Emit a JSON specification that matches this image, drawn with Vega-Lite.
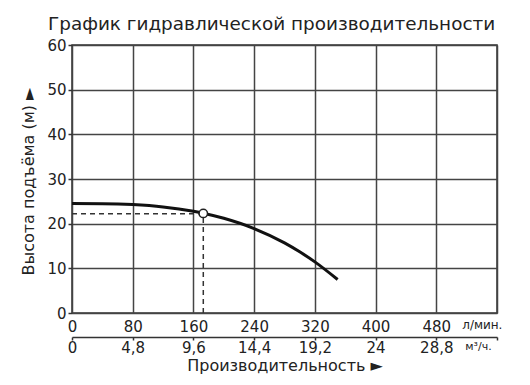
{
  "$schema": "https://vega.github.io/schema/vega-lite/v6.json",
  "width": 425,
  "height": 268,
  "autosize": {"type": "none"},
  "padding": {"left": 72, "top": 45, "right": 33, "bottom": 72},
  "background": "white",
  "title": {
    "text": "График гидравлической производительности",
    "anchor": "start",
    "frame": "group",
    "dx": -24,
    "offset": -10,
    "baseline": "alphabetic",
    "font": "DejaVu Sans",
    "fontSize": 18.4,
    "fontWeight": "normal",
    "color": "#222"
  },
  "config": {
    "font": "DejaVu Sans",
    "view": {"stroke": "#333", "strokeWidth": 1.5}
  },
  "datasets": {
    "curve": [
      {"q": 0, "h": 24.5},
      {"q": 40, "h": 24.47},
      {"q": 80, "h": 24.27},
      {"q": 120, "h": 23.75},
      {"q": 160, "h": 22.78},
      {"q": 173, "h": 22.35},
      {"q": 200, "h": 21.2},
      {"q": 240, "h": 18.9},
      {"q": 280, "h": 15.7},
      {"q": 300, "h": 13.7},
      {"q": 320, "h": 11.45},
      {"q": 350, "h": 7.5}
    ],
    "guides": [
      {"q": 0, "q2": 173, "h": 22.2, "h2": 22.2},
      {"q": 173, "q2": 173, "h": 0, "h2": 22.2}
    ],
    "duty": [{"q": 173, "h": 22.3}]
  },
  "encoding": {
    "y": {
      "field": "h", "type": "quantitative",
      "scale": {"domain": [0, 60], "nice": false},
      "axis": {
        "values": [0, 10, 20, 30, 40, 50, 60],
        "grid": true,
        "gridColor": "#444",
        "gridWidth": 1.5,
        "domain": false,
        "tickSize": 4,
        "tickColor": "#333",
        "tickWidth": 1.5,
        "labelFontSize": 15,
        "labelColor": "#222",
        "labelPadding": 2,
        "labelFlush": false,
        "labelOverlap": false,
        "title": "Высота подъёма (м) ►",
        "titleFontSize": 16,
        "titleFontWeight": "normal",
        "titleColor": "#222",
        "titleX": -44,
        "titleY": 136,
        "titleAngle": -90,
        "titleAlign": "center",
        "titleBaseline": "middle"
      }
    }
  },
  "resolve": {"axis": {"x": "independent"}},
  "layer": [
    {
      "data": {"name": "curve"},
      "mark": {"type": "line", "color": "#111", "strokeWidth": 3, "interpolate": "monotone"},
      "encoding": {
        "x": {
          "field": "q", "type": "quantitative",
          "scale": {"domain": [0, 560], "nice": false, "zero": false},
          "axis": {
            "orient": "bottom",
            "values": [0, 80, 160, 240, 320, 400, 480, 540, 560],
            "domain": false,
            "ticks": false,
            "grid": true,
            "gridColor": "#444",
            "gridWidth": 1.5,
            "gridOpacity": {"condition": {"test": "datum.value==540", "value": 0}, "value": 1},
            "labelExpr": "datum.value==540 ? 'л/мин.' : (datum.value==560 ? '' : datum.label)",
            "labelFontSize": {"condition": {"test": "datum.value==540", "value": 12}, "value": 15},
            "labelColor": "#222",
            "labelPadding": 6,
            "labelFlush": false,
            "labelOverlap": false,
            "title": null
          }
        }
      }
    },
    {
      "data": {"name": "guides"},
      "mark": {"type": "rule", "color": "#333", "strokeWidth": 1.5, "strokeDash": [5, 4]},
      "encoding": {
        "x": {"field": "q", "type": "quantitative", "axis": null},
        "x2": {"field": "q2"},
        "y2": {"field": "h2"}
      }
    },
    {
      "data": {"name": "duty"},
      "mark": {"type": "point", "filled": true, "fill": "white", "stroke": "#222", "strokeWidth": 1.5, "size": 70, "opacity": 1},
      "encoding": {
        "x": {
          "field": "q", "type": "quantitative",
          "axis": {
            "orient": "bottom",
            "offset": 24,
            "values": [0, 80, 160, 240, 320, 400, 480, 535, 560],
            "domain": true,
            "domainColor": "#333",
            "domainWidth": 1.5,
            "ticks": true,
            "tickSize": 3,
            "tickColor": "#333",
            "tickWidth": 1.5,
            "tickOpacity": {"condition": {"test": "datum.value==535", "value": 0}, "value": 1},
            "grid": false,
            "labelExpr": "datum.value==535 ? 'м³/ч.' : (datum.value==560 ? '' : replace(format(datum.value*0.06, '.1~f'), '.', ','))",
            "labelFontSize": {"condition": {"test": "datum.value==535", "value": 11}, "value": 15},
            "labelColor": "#222",
            "labelPadding": 0,
            "labelFlush": false,
            "labelOverlap": false,
            "title": "Производительность ►",
            "titleFontSize": 16,
            "titleFontWeight": "normal",
            "titleColor": "#222",
            "titlePadding": 2
          }
        }
      }
    }
  ]
}
